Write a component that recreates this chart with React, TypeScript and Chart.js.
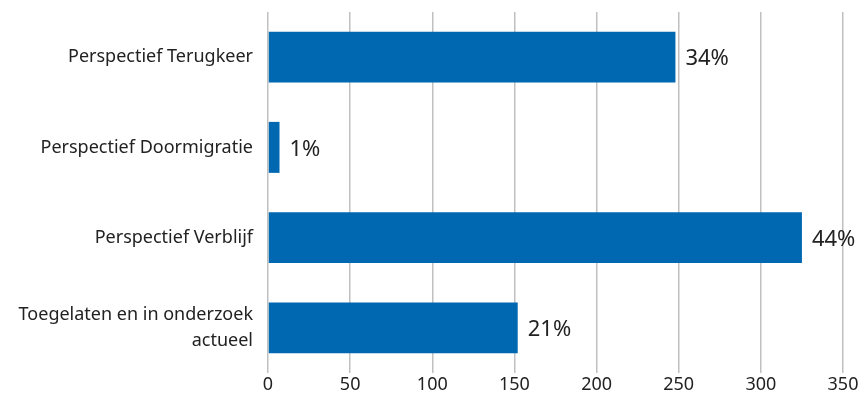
import React, { useEffect, useRef } from "react";
import { Chart, registerables } from "chart.js";

Chart.register(...registerables);

const categories: (string | string[])[] = [
  "Perspectief Terugkeer",
  "Perspectief Doormigratie",
  "Perspectief Verblijf",
  ["Toegelaten en in onderzoek", "actueel"],
];
const values = [248, 7, 325, 152];
const percentLabels = ["34%", "1%", "44%", "21%"];
const xTicks = [0, 50, 100, 150, 200, 250, 300, 350];

const FONT = "'Noto Sans', 'Open Sans', sans-serif";

const valueLabelPlugin = {
  id: "valueLabels",
  afterDatasetsDraw(chart: any) {
    const ctx = chart.ctx;
    const meta = chart.getDatasetMeta(0);
    ctx.save();
    ctx.font = `22px ${FONT}`;
    ctx.fillStyle = "#222222";
    ctx.textAlign = "left";
    ctx.textBaseline = "middle";
    meta.data.forEach((bar: any, i: number) => {
      ctx.fillText(percentLabels[i], bar.x + 10, bar.y + 2);
    });
    ctx.restore();
  },
};

export default function App() {
  const ref = useRef<HTMLCanvasElement>(null);
  useEffect(() => {
    document.body.style.margin = "0";
    const chart = new Chart(ref.current!, {
      type: "bar",
      data: {
        labels: categories,
        datasets: [
          {
            data: values,
            backgroundColor: "#0067b1",
            borderWidth: 0,
            barPercentage: 0.565,
            categoryPercentage: 1,
          },
        ],
      },
      plugins: [valueLabelPlugin],
      options: {
        indexAxis: "y",
        animation: false,
        responsive: false,
        maintainAspectRatio: false,
        layout: { padding: { top: 12, right: 22, left: 0, bottom: 0 } },
        plugins: { legend: { display: false }, tooltip: { enabled: false } },
        scales: {
          x: {
            min: 0,
            max: 350,
            afterBuildTicks: (axis: any) => {
              axis.ticks = xTicks.map((v) => ({ value: v }));
            },
            afterFit: (axis: any) => {
              axis.paddingLeft = 0;
              axis.paddingRight = 0;
              axis.height = 27;
            },
            grid: { color: "#c0c0c0", lineWidth: 1.5, drawTicks: false },
            border: { display: false },
            ticks: {
              color: "#222222",
              font: { family: FONT, size: 18 },
              padding: 1,
            },
          },
          y: {
            grid: { display: false, drawTicks: false },
            border: { display: false },
            afterFit: (axis: any) => {
              axis.width = 268;
              axis.paddingTop = 0;
              axis.paddingBottom = 0;
            },
            ticks: {
              color: "#222222",
              font: { family: FONT, size: 18, lineHeight: 1.4 },
              padding: 15,
            },
          },
        },
      },
    });
    return () => chart.destroy();
  }, []);
  return (
    <div style={{ position: "absolute", left: 0, top: 0, width: 865, height: 400 }}>
      <canvas ref={ref} width={865} height={400} style={{ width: 865, height: 400 }} />
    </div>
  );
}
